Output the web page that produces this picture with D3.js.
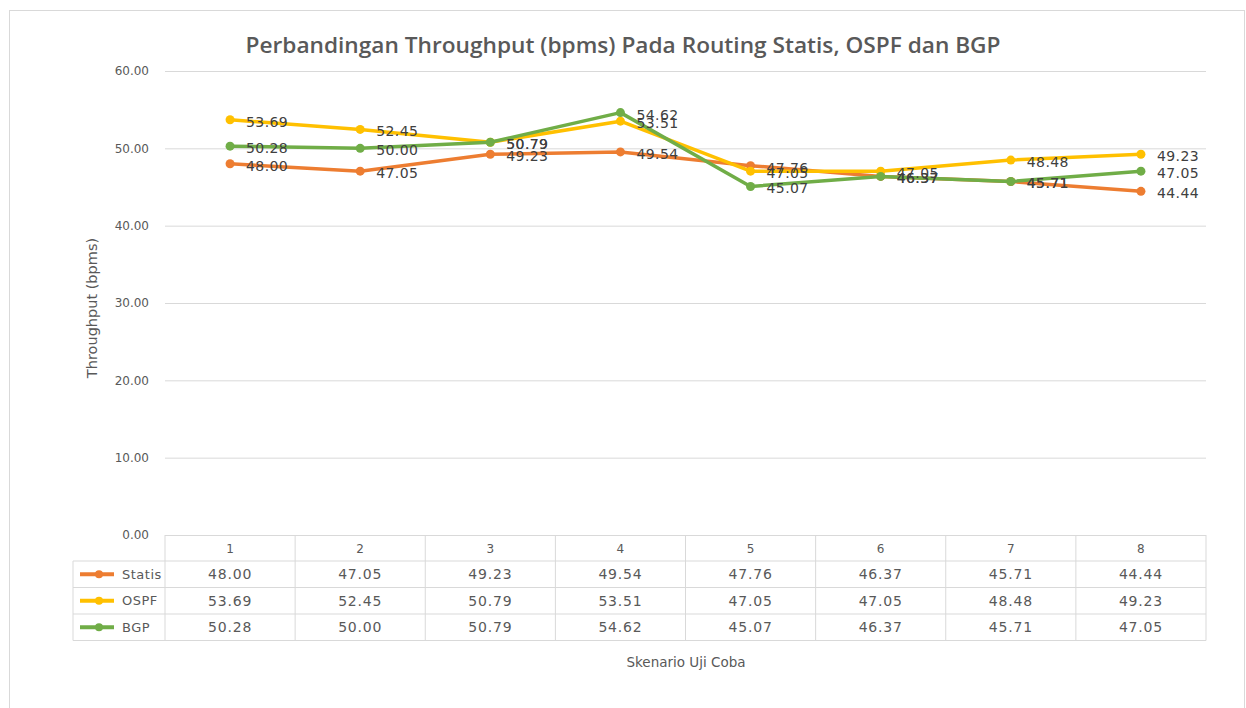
<!DOCTYPE html>
<html>
<head>
<meta charset="utf-8">
<script src="https://cdn.jsdelivr.net/npm/d3@7"></script>
<style>
    body { margin: 0; background: #fff; }
    svg { display: block; }
</style>
</head>
<body>
<svg id="chart" width="1246" height="708"></svg>
<script>
// Chart data
const scenarios = ["1", "2", "3", "4", "5", "6", "7", "8"];
const seriesNames = ["Statis", "OSPF", "BGP"];
const statis = [48.00, 47.05, 49.23, 49.54, 47.76, 46.37, 45.71, 44.44];
const ospf = [53.69, 52.45, 50.79, 53.51, 47.05, 47.05, 48.48, 49.23];
const bgp = [50.28, 50.00, 50.79, 54.62, 45.07, 46.37, 45.71, 47.05];
const yTicks = [0, 10, 20, 30, 40, 50, 60];
const colours = { Statis: "#ED7D31", OSPF: "#FFC000", BGP: "#70AD47" };

const series = [
    { name: "Statis", values: statis },
    { name: "OSPF", values: ospf },
    { name: "BGP", values: bgp }
];

const margin = { top: 71, right: 40, bottom: 173, left: 165 };
const width = 1206 - margin.left;
const height = 535 - margin.top;
const textColour = "#595959";
const gridColour = "#d9d9d9";

const svg = d3.select("#chart");

// Outer chart border
svg.append("rect")
    .attr("x", 9.5)
    .attr("y", 10.5)
    .attr("width", 1235)
    .attr("height", 720)
    .attr("fill", "none")
    .attr("stroke", gridColour);

// Title
svg.append("text")
    .attr("x", 623)
    .attr("y", 53)
    .attr("text-anchor", "middle")
    .attr("textLength", 755)
    .attr("lengthAdjust", "spacingAndGlyphs")
    .style("font-family", "'Open Sans', sans-serif")
    .style("font-size", "21px")
    .style("font-weight", "600")
    .style("fill", textColour)
    .text("Perbandingan Throughput (bpms) Pada Routing Statis, OSPF dan BGP");

const g = svg.append("g")
    .attr("transform", `translate(${margin.left}, ${margin.top})`);

// Scales
const xScale = d3.scaleBand()
    .domain(scenarios)
    .range([0, width]);

const yScale = d3.scaleLinear()
    .domain([0, 60])
    .range([height, 0]);

// Gridlines + y labels
const yAxis = d3.axisLeft(yScale)
    .tickValues(yTicks)
    .tickSize(-width)
    .tickPadding(16)
    .tickFormat(d3.format(".2f"));

g.append("g")
    .attr("class", "y-axis")
    .call(yAxis)
    .call(a => a.select(".domain").remove())
    .call(a => a.selectAll("line").attr("stroke", gridColour))
    .call(a => a.selectAll("text")
        .style("font-family", "'DejaVu Sans', sans-serif")
        .style("font-size", "12px")
        .style("fill", textColour));

// Y axis title
svg.append("text")
    .attr("transform", "translate(97, 308) rotate(-90)")
    .attr("text-anchor", "middle")
    .style("font-family", "'DejaVu Sans', sans-serif")
    .style("font-size", "14.5px")
    .style("fill", textColour)
    .text("Throughput (bpms)");

// Lines
const line = d3.line()
    .x((d, i) => xScale(scenarios[i]) + xScale.bandwidth() / 2)
    .y(d => yScale(d));

series.forEach(s => {
    g.append("path")
        .datum(s.values)
        .attr("d", line)
        .attr("fill", "none")
        .attr("stroke", colours[s.name])
        .attr("stroke-width", 3.5)
        .attr("stroke-linejoin", "round");

    g.selectAll(null)
        .data(s.values)
        .enter()
        .append("circle")
        .attr("cx", (d, i) => xScale(scenarios[i]) + xScale.bandwidth() / 2)
        .attr("cy", d => yScale(d))
        .attr("r", 4.5)
        .attr("fill", colours[s.name]);
});

// Data labels (to the right of each marker)
series.forEach(s => {
    g.selectAll(null)
        .data(s.values)
        .enter()
        .append("text")
        .attr("x", (d, i) => xScale(scenarios[i]) + xScale.bandwidth() / 2 + 16)
        .attr("y", d => yScale(d) + 2)
        .attr("dy", "0.35em")
        .style("font-family", "'DejaVu Sans', sans-serif")
        .style("font-size", "14px")
        .style("letter-spacing", "0.4px")
        .style("fill", "#404040")
        .text(d => d.toFixed(2));
});

// Data table under the plot
const rowH = 26.5;
const tableLeft = 73 - margin.left;
const headerTop = height;
const headerBottom = height + 26;
const tableBottom = headerBottom + rowH * series.length;
const table = g.append("g").attr("class", "data-table");

// vertical separators
scenarios.concat(["end"]).forEach((c, i) => {
    const x = i < scenarios.length ? xScale(c) : width;
    table.append("line")
        .attr("x1", x).attr("x2", x)
        .attr("y1", headerTop).attr("y2", tableBottom)
        .attr("stroke", gridColour);
});
table.append("line")
    .attr("x1", tableLeft).attr("x2", tableLeft)
    .attr("y1", headerBottom).attr("y2", tableBottom)
    .attr("stroke", gridColour);

// horizontal separators
d3.range(series.length + 1).forEach(i => {
    const y = headerBottom + i * rowH;
    table.append("line")
        .attr("x1", tableLeft).attr("x2", width)
        .attr("y1", y).attr("y2", y)
        .attr("stroke", gridColour);
});

// header numbers
table.selectAll(null)
    .data(scenarios)
    .enter()
    .append("text")
    .attr("x", d => xScale(d) + xScale.bandwidth() / 2)
    .attr("y", headerTop + 14)
    .attr("dy", "0.35em")
    .attr("text-anchor", "middle")
    .style("font-family", "'DejaVu Sans', sans-serif")
    .style("font-size", "12px")
    .style("fill", textColour)
    .text(d => d);

// rows: legend key + values
series.forEach((s, r) => {
    const cy = headerBottom + r * rowH + rowH / 2;
    table.append("line")
        .attr("x1", tableLeft + 7).attr("x2", tableLeft + 41)
        .attr("y1", cy).attr("y2", cy)
        .attr("stroke", colours[s.name])
        .attr("stroke-width", 4);
    table.append("circle")
        .attr("cx", tableLeft + 26)
        .attr("cy", cy)
        .attr("r", 4)
        .attr("fill", colours[s.name]);
    table.append("text")
        .attr("x", tableLeft + 49)
        .attr("y", cy)
        .attr("dy", "0.35em")
        .style("font-family", "'DejaVu Sans', sans-serif")
        .style("font-size", "13px")
        .style("letter-spacing", "0.5px")
        .style("fill", textColour)
        .text(s.name);

    table.selectAll(null)
        .data(s.values)
        .enter()
        .append("text")
        .attr("x", (d, i) => xScale(scenarios[i]) + xScale.bandwidth() / 2)
        .attr("y", cy)
        .attr("dy", "0.35em")
        .attr("text-anchor", "middle")
        .style("font-family", "'DejaVu Sans', sans-serif")
        .style("font-size", "14px")
        .style("letter-spacing", "0.8px")
        .style("fill", textColour)
        .text(d => d.toFixed(2));
});

// X axis title
svg.append("text")
    .attr("x", 686)
    .attr("y", 662)
    .attr("dy", "0.35em")
    .attr("text-anchor", "middle")
    .style("font-family", "'DejaVu Sans', sans-serif")
    .style("font-size", "13.5px")
    .style("fill", textColour)
    .text("Skenario Uji Coba");
</script>
</body>
</html>
